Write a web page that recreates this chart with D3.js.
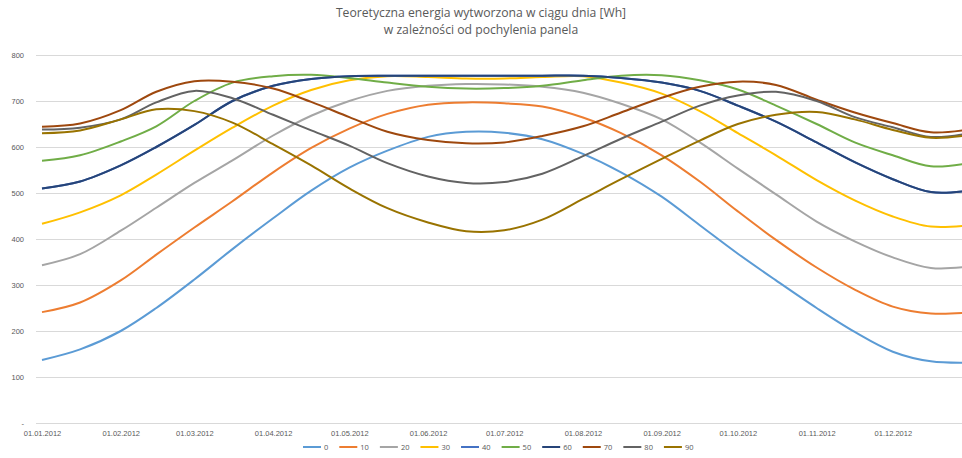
<!DOCTYPE html>
<html>
<head>
<meta charset="utf-8">
<script src="https://cdn.jsdelivr.net/npm/d3@7"></script>
<style>
  html, body { margin: 0; padding: 0; background: #fff; }
  svg { display: block; font-family: "Open Sans", "Noto Sans", sans-serif; }
</style>
</head>
<body>
<svg id="chart" width="962" height="458"></svg>
<script>
// Daily energy (Wh) sampled twice a month, one array per panel tilt angle
const dates = ["2012-01-01","2012-01-16","2012-02-01","2012-02-15","2012-03-01","2012-03-16",
  "2012-04-01","2012-04-16","2012-05-01","2012-05-16","2012-06-01","2012-06-16",
  "2012-07-01","2012-07-16","2012-08-01","2012-08-16","2012-09-01","2012-09-16",
  "2012-10-01","2012-10-16","2012-11-01","2012-11-16","2012-12-01","2012-12-16","2012-12-31"];

const tilts = ["0","10","20","30","40","50","60","70","80","90"];
const colors = ["#5B9BD5","#ED7D31","#A5A5A5","#FFC000","#4472C4","#70AD47","#264478","#9E480E","#636363","#997300"];

const s0  = [137,160,200,250,312,378,445,505,555,592,622,633,631,617,585,545,492,430,368,310,250,198,155,134,131];
const s10 = [241,262,310,366,425,482,545,598,640,672,692,697,695,688,664,630,582,525,460,398,338,290,253,238,240];
const s20 = [343,367,418,468,522,571,625,668,700,722,733,737,736,731,718,694,660,610,553,497,438,395,360,337,340];
const s30 = [433,458,495,540,592,642,690,724,745,754,752,749,749,752,754,740,716,678,630,582,528,484,449,427,430];
const s40 = [510,525,560,600,648,700,733,748,754,755,755,755,755,755,755,750,740,722,690,655,610,567,530,502,505];
const s50 = [570,582,612,645,700,740,754,757,750,740,731,727,728,733,745,755,756,745,725,690,650,610,582,558,565];
const s60 = [510,525,560,600,648,700,733,748,754,755,755,755,755,755,755,750,740,722,690,655,610,567,530,502,505];
const s70 = [644,651,680,720,743,742,727,698,665,633,615,608,610,624,645,675,707,731,742,735,703,675,652,632,638];
const s80 = [638,642,660,697,722,706,670,636,603,565,536,522,524,542,580,618,655,690,712,720,700,665,643,622,630];
const s90 = [630,636,660,682,678,653,606,560,510,467,436,417,419,442,487,530,574,614,650,670,676,660,637,620,626];

const yTicks = [0,100,200,300,400,500,600,700,800];
const titleLines = ["Teoretyczna energia wytworzona w ciągu dnia [Wh]", "w zależności od pochylenia panela"];

const seriesValues = [s0,s10,s20,s30,s40,s50,s60,s70,s80,s90];
const parse = d3.timeParse("%Y-%m-%d");
const days = dates.map(parse);
const series = tilts.map((name, i) => ({
  name, color: colors[i],
  points: days.map((d, j) => ({ date: d, value: seriesValues[i][j] }))
}));

const svg = d3.select("#chart");
const textColor = "#595959";
const gridColor = "#D9D9D9";

const x = d3.scaleTime()
  .domain([parse("2012-01-01"), parse("2012-12-31")])
  .range([42, 969]);
const y = d3.scaleLinear().domain([0, 800]).range([423, 55]);

// Title
svg.append("g").selectAll("text").data(titleLines).join("text")
  .attr("x", 481).attr("y", (d, i) => 17 + i * 17)
  .attr("text-anchor", "middle")
  .attr("font-size", 12.2)
  .attr("fill", textColor)
  .text(d => d);

// Horizontal gridlines and value axis
const yAxis = d3.axisLeft(y).tickValues(yTicks)
  .tickSize(-(962 - 36)).tickPadding(12)
  .tickFormat(v => v === 0 ? "-" : d3.format("d")(v));
const gy = svg.append("g").attr("transform", "translate(36,0)").call(yAxis);
gy.select(".domain").remove();
gy.selectAll(".tick line").attr("stroke", gridColor).attr("stroke-width", 1);
gy.selectAll(".tick text").attr("fill", textColor).attr("font-size", 7.5);

// Category (date) axis labels
const xAxis = d3.axisBottom(x)
  .tickValues(d3.timeMonth.range(parse("2012-01-01"), parse("2012-12-31")))
  .tickSize(0).tickPadding(8)
  .tickFormat(d3.timeFormat("%d.%m.%Y"));
const gx = svg.append("g").attr("transform", "translate(0,423)").call(xAxis);
gx.select(".domain").remove();
gx.selectAll(".tick text").attr("fill", textColor).attr("font-size", 7.5);

// Series lines
const line = d3.line()
  .x(d => x(d.date))
  .y(d => y(d.value))
  .curve(d3.curveCatmullRom.alpha(0.5));

svg.append("g").selectAll("path").data(series).join("path")
  .attr("d", d => line(d.points))
  .attr("fill", "none")
  .attr("stroke", d => d.color)
  .attr("stroke-width", 2)
  .attr("stroke-linejoin", "round");

// Legend
const legend = svg.append("g").attr("transform", "translate(0,447)");
let lx = 303;
series.forEach(s => {
  const g = legend.append("g");
  g.append("line").attr("x1", lx).attr("x2", lx + 18).attr("y1", 0).attr("y2", 0)
    .attr("stroke", s.color).attr("stroke-width", 2);
  const t = g.append("text").attr("x", lx + 21).attr("y", 2.8)
    .attr("font-size", 7.5).attr("fill", textColor).text(s.name);
  lx += 21 + t.node().getComputedTextLength() + 11;
});
</script>
</body>
</html>
